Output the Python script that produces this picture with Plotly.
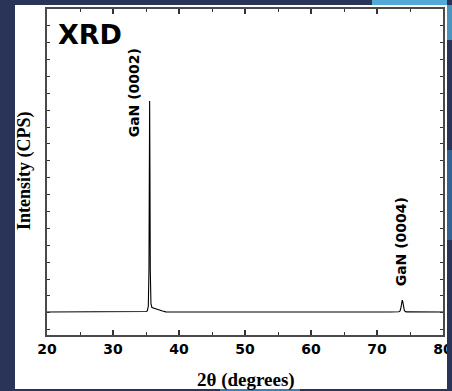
import plotly.graph_objects as go

# ---- data ----
two_theta = [20.0, 25.0, 30.0, 34.0, 35.0, 35.2, 35.35, 35.45, 35.5, 35.55, 35.6, 35.65,
             35.75, 35.9, 36.3, 37.0, 37.5, 38.0, 45.0, 55.0, 65.0, 72.0, 73.3, 73.5,
             73.65, 73.75, 73.82, 73.9, 74.0, 74.15, 74.4, 76.0, 80.0]
intensity = [1050, 1050, 1050, 1060, 1080, 1120, 1400, 3600, 9200, 13540, 9000, 3500,
             1550, 1320, 1260, 1200, 1110, 1060, 1050, 1050, 1050, 1050, 1070, 1120,
             1350, 1680, 1760, 1660, 1360, 1130, 1060, 1050, 1050]
x_ticks = [20, 30, 40, 50, 60, 70, 80]
peak_labels = ["GaN (0002)", "GaN (0004)"]
peak_label_x = [33.2, 73.55]
peak_label_y = [14000, 5200]

W, H = 452, 391
L, R, T, B = 47, 443, 9, 335  # plot frame in pixels


def px(x):
    return (x - L) / (R - L)


def py(y):
    return (B - y) / (B - T)


fig = go.Figure()
fig.add_trace(go.Scatter(x=two_theta, y=intensity, mode="lines",
                         line=dict(color="black", width=1.1), hoverinfo="skip",
                         showlegend=False))

shapes = [
    # white card
    dict(type="rect", xref="paper", yref="paper", x0=px(15), x1=px(447), y0=py(389), y1=py(5),
         fillcolor="white", line=dict(width=0), layer="below"),
    # right edge cut (clips the "80")
    dict(type="rect", xref="paper", yref="paper", x0=px(447), x1=px(453), y0=py(392), y1=py(-1),
         fillcolor="#2a3358", line=dict(width=0), layer="above"),
    # cyan glow pieces in the background
    dict(type="rect", xref="paper", yref="paper", x0=px(372), x1=px(453), y0=py(5), y1=py(-1),
         fillcolor="rgba(90,190,235,0.85)", line=dict(width=0), layer="below"),
    dict(type="rect", xref="paper", yref="paper", x0=px(447), x1=px(453), y0=py(40), y1=py(5),
         fillcolor="rgba(90,190,235,0.7)", line=dict(width=0), layer="above"),
    dict(type="rect", xref="paper", yref="paper", x0=px(447), x1=px(453), y0=py(240), y1=py(150),
         fillcolor="rgba(60,130,190,0.6)", line=dict(width=0), layer="above"),
    dict(type="rect", xref="paper", yref="paper", x0=px(220), x1=px(300), y0=py(392), y1=py(389),
         fillcolor="rgba(60,150,210,0.8)", line=dict(width=0), layer="below"),
]
fig.update_layout(shapes=shapes)

annotations = [
    dict(text="XRD", xref="paper", yref="paper", x=px(90), y=py(34),
         showarrow=False, font=dict(family="DejaVu Sans", size=27, color="black", weight="bold"),
         xanchor="center", yanchor="middle"),
    dict(text="Intensity (CPS)", xref="paper", yref="paper", x=px(24), y=py(171),
         showarrow=False, textangle=-90,
         font=dict(family="Liberation Serif", size=18, color="black", weight="bold"),
         xanchor="center", yanchor="middle"),
    dict(text="2θ (degrees)", xref="paper", yref="paper", x=px(246), y=py(380),
         showarrow=False,
         font=dict(family="Liberation Serif", size=19, color="black", weight="bold"),
         xanchor="center", yanchor="middle"),
]
for lab, xl, yl in zip(peak_labels, peak_label_x, peak_label_y):
    annotations.append(dict(text=lab, x=xl, y=yl, xref="x", yref="y",
                            showarrow=False, textangle=-90,
                            font=dict(family="DejaVu Sans", size=14, color="black",
                                      weight="bold"),
                            xanchor="center", yanchor="middle"))
fig.update_layout(annotations=annotations)

fig.update_xaxes(range=[20, 80], tickvals=x_ticks, ticktext=[str(v) for v in x_ticks],
                 ticks="inside", ticklen=5, tickwidth=1.5, tickcolor="#333",
                 minor=dict(dtick=5, ticks="inside", ticklen=3, tickcolor="#333", tickwidth=1.2),
                 showline=True, linecolor="#4a4a4a", linewidth=2, mirror="allticks",
                 showgrid=False, zeroline=False, automargin=False, ticklabeloverflow="allow",
                 tickfont=dict(family="DejaVu Sans", size=14, color="black", weight="bold"))
fig.update_yaxes(range=[-308, 18982], dtick=1000, tick0=0,
                 ticks="inside", ticklen=3, tickwidth=1.2, tickcolor="#333",
                 showticklabels=False, automargin=False,
                 showline=True, linecolor="#4a4a4a", linewidth=2, mirror="allticks",
                 showgrid=False, zeroline=False)

fig.update_layout(width=W, height=H, margin=dict(l=L, r=W - R, t=T, b=H - B, autoexpand=False),
                  paper_bgcolor="#2a3358", plot_bgcolor="white")

fig.write_html("out.html", config={"displayModeBar": False},
               post_script="document.body.style.margin='0';document.body.style.overflow='hidden';")
